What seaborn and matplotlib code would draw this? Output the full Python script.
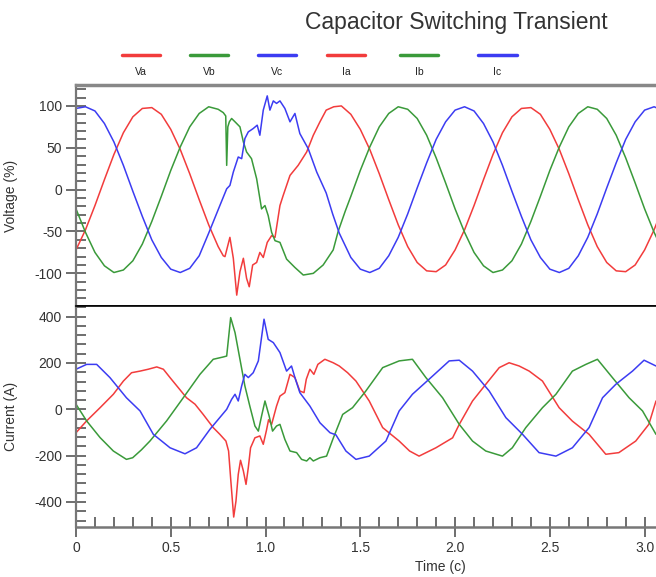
import pandas as pd
import seaborn as sns
import matplotlib.pyplot as plt
from matplotlib.lines import Line2D
from matplotlib.ticker import MultipleLocator

# time axis in cycles
va_t = [0, 0.05, 0.1, 0.15, 0.2, 0.25, 0.3, 0.35, 0.4, 0.45, 0.5, 0.55, 0.6, 0.65, 0.7, 0.75,
        0.777, 0.786, 0.812, 0.83, 0.848, 0.865, 0.883, 0.9, 0.914, 0.932, 0.953, 0.97, 0.988,
        1.009, 1.032, 1.05, 1.076, 1.093, 1.129, 1.172, 1.217, 1.252, 1.287, 1.32, 1.36, 1.4,
        1.45, 1.5, 1.55, 1.6, 1.65, 1.7, 1.75, 1.8, 1.85, 1.9, 1.95, 2.0, 2.05, 2.1, 2.15, 2.2,
        2.25, 2.3, 2.35, 2.4, 2.45, 2.5, 2.55, 2.6, 2.65, 2.7, 2.75, 2.8, 2.85, 2.9, 2.95, 3.0,
        3.05, 3.1]
va = [-72, -48, -19, 12, 42, 68, 87, 97, 98, 90, 72, 48, 19, -12, -42, -68,
      -79, -80, -57, -82, -126, -98, -82, -106, -116, -90, -87, -75, -81,
      -63, -55, -57, -19, -7, 17, 29, 45, 65, 81, 95, 99, 100,
      90, 72, 48, 19, -12, -42, -68, -87, -97, -98, -90, -72, -48, -19, 12, 42,
      68, 87, 97, 98, 90, 72, 48, 19, -12, -42, -68, -87, -97, -98, -90, -72,
      -48, -19]

vb_t = [0, 0.05, 0.1, 0.15, 0.2, 0.25, 0.3, 0.35, 0.4, 0.45, 0.5, 0.55, 0.6, 0.65, 0.7, 0.75,
        0.777, 0.79, 0.795, 0.801, 0.809, 0.821, 0.839, 0.865, 0.883, 0.9, 0.926, 0.953, 0.979,
        0.997, 1.014, 1.032, 1.05, 1.076, 1.111, 1.155, 1.199, 1.252, 1.304, 1.357, 1.383, 1.42,
        1.45, 1.5, 1.55, 1.6, 1.65, 1.7, 1.75, 1.8, 1.85, 1.9, 1.95, 2.0, 2.05, 2.1, 2.15, 2.2,
        2.25, 2.3, 2.35, 2.4, 2.45, 2.5, 2.55, 2.6, 2.65, 2.7, 2.75, 2.8, 2.85, 2.9, 2.95, 3.0,
        3.05, 3.1]
vb = [-23, -51, -75, -91, -99, -96, -85, -65, -38, -8, 23, 51, 75, 91, 99, 96,
      92, 88, 29, 75, 81, 85, 81, 75, 57, 45, 37, 13, -23,
      -19, -31, -51, -61, -63, -83, -93, -102, -100, -90, -72, -50, -26,
      -8, 23, 51, 75, 91, 99, 96, 85, 65, 38, 8, -23, -51, -75, -91, -99,
      -96, -85, -65, -38, -8, 23, 51, 75, 91, 99, 96, 85, 65, 38, 8, -23,
      -51, -75]

vc_t = [0, 0.05, 0.1, 0.15, 0.2, 0.25, 0.3, 0.35, 0.4, 0.45, 0.5, 0.55, 0.6, 0.65, 0.7,
        0.759, 0.795, 0.812, 0.83, 0.856, 0.874, 0.891, 0.909, 0.935, 0.956, 0.97, 0.988,
        1.009, 1.023, 1.041, 1.058, 1.076, 1.102, 1.129, 1.155, 1.181, 1.225, 1.27, 1.32,
        1.354, 1.389,
        1.45, 1.5, 1.55, 1.6, 1.65, 1.7, 1.75, 1.8, 1.85, 1.9, 1.95, 2.0, 2.05, 2.1, 2.15, 2.2,
        2.25, 2.3, 2.35, 2.4, 2.45, 2.5, 2.55, 2.6, 2.65, 2.7, 2.75, 2.8, 2.85, 2.9, 2.95, 3.0,
        3.05, 3.1]
vc = [97, 99, 94, 79, 57, 29, -2, -32, -60, -81, -95, -99, -94, -79, -52,
      -19, 1, 5, 21, 39, 37, 61, 69, 73, 77, 65, 95,
      112, 95, 106, 103, 106, 97, 81, 91, 67, 49, 21, -4,
      -29, -52,
      -81, -95, -99, -94, -79, -57, -29, 2, 32, 60, 81, 95, 99, 94, 79, 57,
      29, -2, -32, -60, -81, -95, -99, -94, -79, -57, -29, 2, 32, 60, 81, 95,
      99, 94]

ia_t = [0, 0.056, 0.127, 0.197, 0.25, 0.293, 0.338, 0.381, 0.426, 0.461, 0.496, 0.54, 0.583,
        0.628, 0.671, 0.724, 0.759, 0.791, 0.805, 0.817, 0.832, 0.844, 0.856, 0.868, 0.883,
        0.897, 0.909, 0.921, 0.944, 0.97, 0.988, 1.005, 1.016, 1.032, 1.058, 1.076, 1.102,
        1.129, 1.155, 1.181, 1.203, 1.215, 1.234, 1.255, 1.276, 1.313, 1.357, 1.389, 1.433,
        1.477, 1.547, 1.618, 1.705, 1.76, 1.81, 1.899, 1.987, 2.022, 2.092, 2.162, 2.233,
        2.285, 2.338, 2.391, 2.461, 2.549, 2.619, 2.707, 2.795, 2.864, 2.953, 3.022, 3.06]
ia = [-101, -50, 7, 65, 122, 158, 165, 173, 183, 173, 137, 93, 50,
      22, -22, -79, -108, -137, -180, -310, -465, -396, -281, -220, -266,
      -324, -252, -166, -123, -115, -151, -90, -45, -65, 14, 57, 72,
      151, 137, 79, 72, 130, 173, 151, 194, 216, 201, 187, 158,
      122, 36, -79, -137, -180, -202, -166, -123, -65, 36, 108, 180,
      201, 187, 165, 122, 7, -51, -108, -194, -187, -137, -65, 36]

ib_t = [0, 0.056, 0.127, 0.197, 0.266, 0.299, 0.345, 0.39, 0.478, 0.566, 0.654, 0.724, 0.777,
        0.795, 0.816, 0.839, 0.865, 0.891, 0.917, 0.944, 0.962, 0.979, 0.997, 1.019, 1.037,
        1.058, 1.076, 1.102, 1.129, 1.164, 1.19, 1.217, 1.234, 1.252, 1.287, 1.322, 1.357,
        1.407, 1.459, 1.529, 1.618, 1.705, 1.775, 1.846, 1.934, 2.022, 2.092, 2.162, 2.25,
        2.302, 2.373, 2.461, 2.532, 2.619, 2.69, 2.751, 2.83, 2.918, 2.989, 3.06]
ib = [22, -50, -122, -180, -216, -209, -175, -137, -50, 50, 151, 216, 226,
      230, 396, 331, 216, 101, 14, -72, -94, -29, 36, -29, -94,
      -72, -65, -130, -180, -187, -216, -223, -209, -223, -209, -202, -125,
      -22, 7, 79, 180, 209, 216, 137, 50, -65, -137, -180, -202,
      -166, -79, 7, 65, 165, 194, 216, 137, 50, -7, -108]

ic_t = [0, 0.056, 0.109, 0.179, 0.266, 0.338, 0.408, 0.496, 0.575, 0.636, 0.707, 0.795, 0.821,
        0.839, 0.856, 0.874, 0.891, 0.909, 0.935, 0.962, 0.992, 1.014, 1.041, 1.076, 1.111,
        1.137, 1.155, 1.181, 1.234, 1.287, 1.34, 1.371, 1.424, 1.477, 1.547, 1.635, 1.705,
        1.775, 1.863, 1.969, 2.022, 2.092, 2.18, 2.268, 2.356, 2.443, 2.532, 2.619, 2.707,
        2.778, 2.848, 2.936, 2.997, 3.06]
ic = [173, 194, 194, 137, 50, -7, -108, -166, -192, -166, -86, 0, 43,
      65, 36, 101, 151, 137, 158, 209, 389, 302, 288, 245, 165,
      187, 137, 72, 14, -58, -101, -110, -180, -216, -202, -137, -7,
      65, 130, 209, 212, 165, 79, -36, -108, -187, -202, -166, -79,
      50, 108, 165, 212, 187]

names = ["Va", "Vb", "Vc", "Ia", "Ib", "Ic"]
red, green, blue = "#f23c3c", "#3a9a3a", "#3c3cf2"
palette = {"Va": red, "Vb": green, "Vc": blue, "Ia": red, "Ib": green, "Ic": blue}


def long_df(series):
    parts = []
    for name, t, v in series:
        parts.append(pd.DataFrame({"t": t, "val": v, "series": name}))
    return pd.concat(parts, ignore_index=True)


volt = long_df([("Va", va_t, va), ("Vb", vb_t, vb), ("Vc", vc_t, vc)])
curr = long_df([("Ia", ia_t, ia), ("Ib", ib_t, ib), ("Ic", ic_t, ic)])

sns.set_style("ticks")
plt.rcParams['font.family'] = ['Liberation Sans', 'DejaVu Sans']
plt.rcParams['axes.unicode_minus'] = False

fig = plt.figure(figsize=(6.56, 5.77), dpi=100)
ax1 = fig.add_axes([76 / 656, 1 - 306 / 577, 580 / 656, 221 / 577])
ax2 = fig.add_axes([76 / 656, 1 - 527 / 577, 580 / 656, 221 / 577])

sns.lineplot(data=volt, x="t", y="val", hue="series", palette=palette, sort=False,
             estimator=None, legend=False, lw=1.1, ax=ax1)
sns.lineplot(data=curr, x="t", y="val", hue="series", palette=palette, sort=False,
             estimator=None, legend=False, lw=1.1, ax=ax2)

for ax in (ax1, ax2):
    ax.set_xlim(0, 3.06)
    ax.xaxis.set_major_locator(MultipleLocator(0.5))
    ax.xaxis.set_minor_locator(MultipleLocator(0.1))
    ax.tick_params(which="major", direction="inout", length=14, width=1.2, color="#555555",
                   labelsize=10, labelcolor="#333333", pad=3)
    ax.tick_params(which="minor", direction="in", length=7, width=1.2, color="#555555")
    ax.spines["right"].set_visible(False)
    ax.spines["left"].set_color("#777777")
    ax.spines["left"].set_linewidth(1.6)

ax1.set_ylim(-139, 125)
ax1.yaxis.set_major_locator(MultipleLocator(50))
ax1.yaxis.set_minor_locator(MultipleLocator(10))
ax1.tick_params(axis="x", which="both", bottom=False, labelbottom=False)
ax1.spines["top"].set_color("#888888")
ax1.spines["top"].set_linewidth(2.5)
ax1.spines["bottom"].set_color("black")
ax1.spines["bottom"].set_linewidth(1.2)
ax1.set_xlabel("")
ax1.set_ylabel("Voltage (%)", fontsize=10, color="#333333")
ax1.yaxis.set_label_coords(-0.1, 0.5)

ax2.set_ylim(-508, 446)
ax2.yaxis.set_major_locator(MultipleLocator(200))
ax2.yaxis.set_minor_locator(MultipleLocator(40))
ax2.spines["top"].set_color("black")
ax2.spines["top"].set_linewidth(1.2)
ax2.spines["bottom"].set_color("#777777")
ax2.spines["bottom"].set_linewidth(1.8)
ax2.set_xticks([0, 0.5, 1.0, 1.5, 2.0, 2.5, 3.0])
ax2.set_xticklabels(["0", "0.5", "1.0", "1.5", "2.0", "2.5", "3.0"])
ax2.set_ylabel("Current (A)", fontsize=10, color="#333333")
ax2.yaxis.set_label_coords(-0.1, 0.5)
ax2.set_xlabel("Time (c)", fontsize=10, color="#333333")
ax2.xaxis.set_label_coords(0.628, -0.15)

fig.text(456 / 656, 1 - 23 / 577, "Capacitor Switching Transient", ha="center", va="center",
         fontsize=16.5, color="#333333")

# legend row: short line segment with the name below it
seg_x = [(122, 160), (190, 228), (258, 296), (327, 365), (400, 438), (478, 517)]
for name, (x0, x1) in zip(names, seg_x):
    fig.add_artist(Line2D([x0 / 656, x1 / 656], [1 - 55 / 577] * 2, transform=fig.transFigure,
                          color=palette[name], lw=2.5))
    fig.text((x0 + x1) / 2 / 656, 1 - 72 / 577, name, ha="center", va="center",
             fontsize=7.5, color="#222222")

fig.savefig("out.png", dpi=100)
